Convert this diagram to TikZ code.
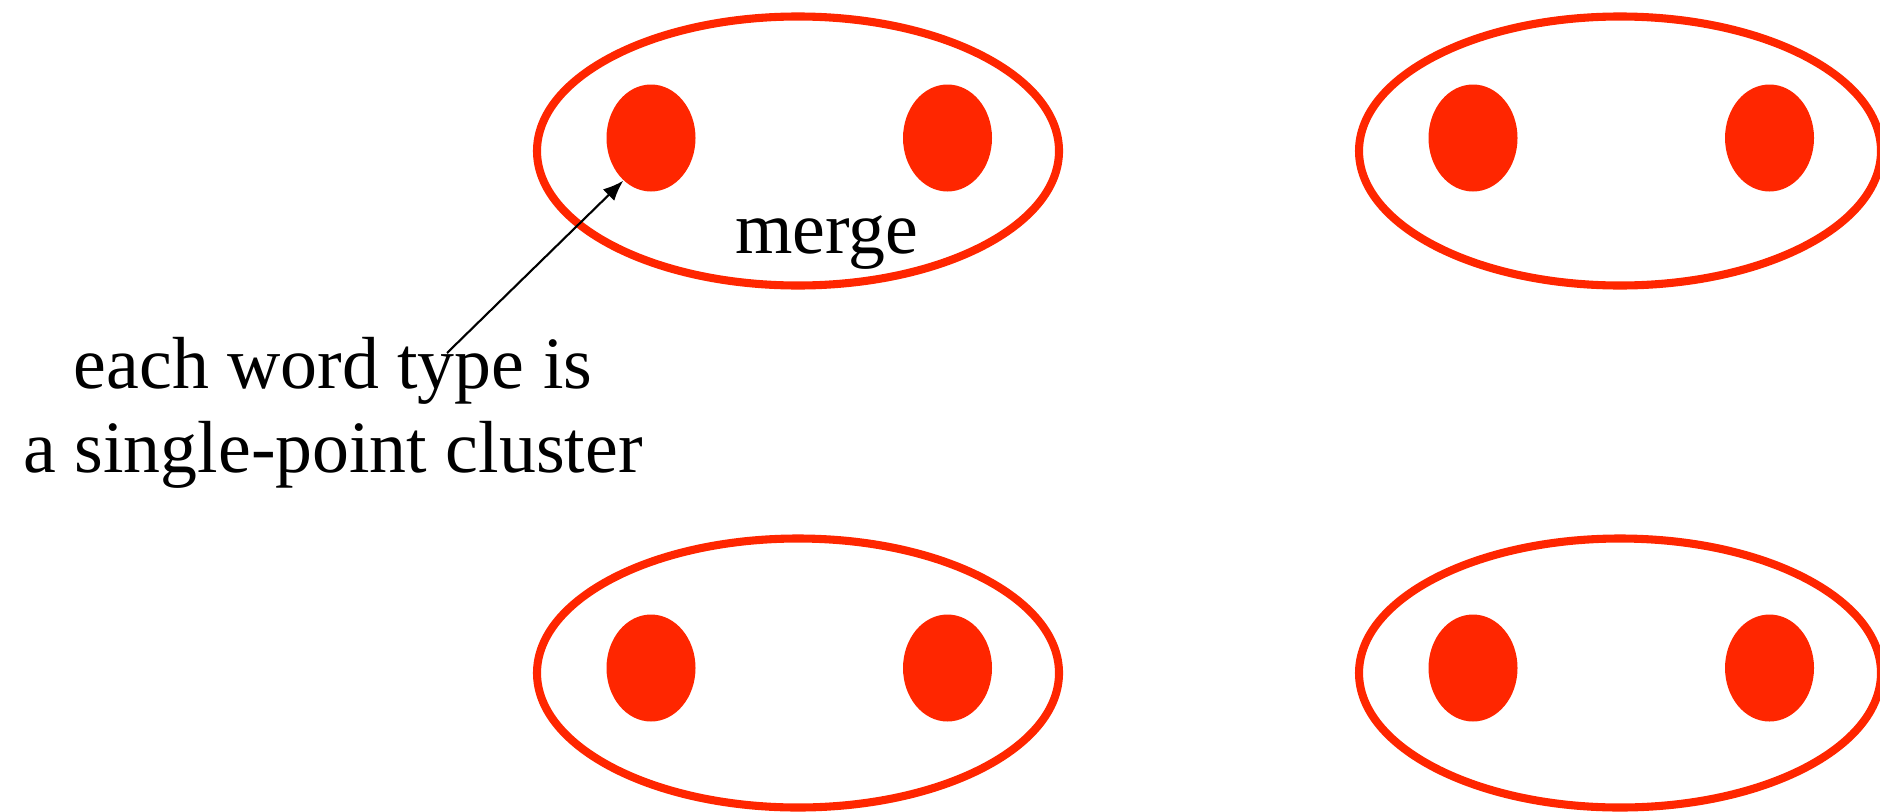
\documentclass[tikz,border=0pt]{standalone}
\usepackage{fontspec}
\setmainfont{Liberation Serif}
\usepackage{tikz}
\usetikzlibrary{shapes.geometric,arrows.meta,positioning}
\definecolor{clred}{RGB}{255,38,0}
\tikzset{
  clu/.style={ellipse,draw=clred,line width=2.3pt,minimum width=5.22cm,minimum height=2.69cm,inner sep=0pt},
  pt/.style={ellipse,fill=clred,minimum width=0.89cm,minimum height=1.07cm,inner sep=0pt},
  lab/.style={font=\fontsize{21}{24}\selectfont,align=center,inner sep=0pt},
  arr/.style={-{Latex[length=5.8pt,width=4.6pt]},line width=0.6pt},
}
\begin{document}
\begin{tikzpicture}
  \useasboundingbox (0,0) rectangle (18.8,-8.11);
  % four clusters, two word types in each
  \foreach \n/\x/\y/\dy in {1/7.98/-1.51/0.13, 2/16.20/-1.51/0.13, 3/7.98/-6.73/0.05, 4/16.20/-6.73/0.05}{
    \node[clu] (c\n) at (\x,\y) {};
    \node[pt] (p\n a) at ([xshift=-1.47cm,yshift=\dy cm]c\n.center) {};
    \node[pt] (p\n b) at ([xshift=1.495cm,yshift=\dy cm]c\n.center) {};
  }
  \node[lab,anchor=base] (mg) at (8.27,-2.53) {merge};
  \node[lab] (txt) at (3.33,-4.13) {each word type is\\a single-point cluster};
  \coordinate (tl) at (4.47,-3.53);
  \draw[arr] (tl) -- (p1a.237);
\end{tikzpicture}
\end{document}
